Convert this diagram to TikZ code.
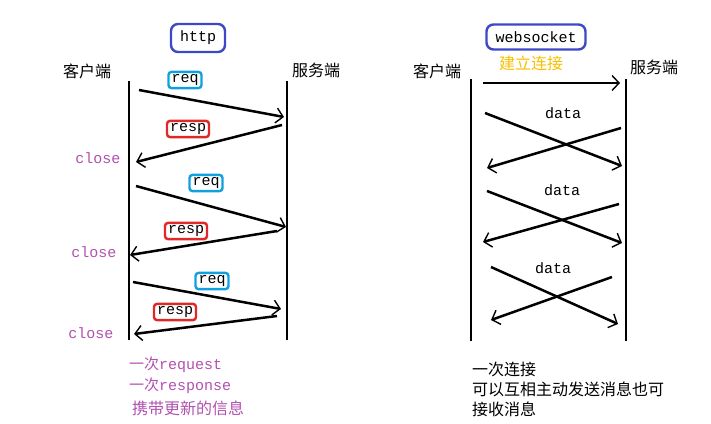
\documentclass[tikz,border=0pt]{standalone}
\usepackage{fontspec}
\usetikzlibrary{arrows.meta}
\newfontfamily\cjk{Noto Sans CJK SC}
\newfontfamily\mono{Liberation Mono}
\definecolor{hblue}{HTML}{3C48C8}
\definecolor{qcyan}{HTML}{10A0E0}
\definecolor{rred}{HTML}{E02828}
\definecolor{cpurple}{HTML}{B050B0}
\definecolor{jyellow}{HTML}{F8C000}

\begin{document}
\begin{tikzpicture}[
        x=1pt,y=-1pt,
        life/.style={line width=2.8pt},
        msg/.style={line width=2.5pt,-{Straight Barb[length=7pt,width=15pt,line width=1.4pt]}},
        titlebox/.style={draw=hblue,line width=2.4pt,rounded corners=7pt,inner xsep=9pt,inner ysep=7pt,font=\mono\fontsize{15}{16}\selectfont},
        reqbox/.style={draw=qcyan,line width=2.4pt,rounded corners=3pt,inner xsep=3pt,inner ysep=2.5pt,font=\mono\fontsize{15}{16}\selectfont},
        respbox/.style={reqbox,draw=rred},
        side/.style={font=\cjk\fontsize{16}{18}\selectfont},
        closelbl/.style={text=cpurple,font=\mono\fontsize{15}{16}\selectfont},
        datalbl/.style={font=\mono\fontsize{15}{16}\selectfont},
        note/.style={align=left,anchor=north west,inner sep=0pt},
      ]
      \useasboundingbox (0,0) rectangle (711,423);
      % http side
      \node[titlebox] (http) at (198,38) {http};
      \node[side] (hcli) at (87,71) {客户端};
      \node[side] (hsrv) at (316,70) {服务端};
      \coordinate (hclitop) at (129,81);
      \coordinate (hclibot) at (129,340);
      \coordinate (hsrvtop) at (287,81);
      \coordinate (hsrvbot) at (287,340);
      \draw[life] (hclitop) -- (hclibot);
      \draw[life] (hsrvtop) -- (hsrvbot);
      \node[reqbox] (req1) at (185,80) {req};
      \node[respbox] (resp1) at (188,129) {resp};
      \node[reqbox] (req2) at (206,183) {req};
      \node[respbox] (resp2) at (186,231) {resp};
      \node[reqbox] (req3) at (212,281) {req};
      \node[respbox] (resp3) at (175,312) {resp};
      \coordinate (q1a) at (139,90);  \coordinate (q1b) at (284,117);
      \coordinate (p1a) at (282,125); \coordinate (p1b) at (136,162);
      \coordinate (q2a) at (136,186); \coordinate (q2b) at (286,227);
      \coordinate (p2a) at (277,231); \coordinate (p2b) at (130,255);
      \coordinate (q3a) at (133,282); \coordinate (q3b) at (281,309);
      \coordinate (p3a) at (277,316); \coordinate (p3b) at (134,334);
      \foreach \a/\b in {q1a/q1b,p1a/p1b,q2a/q2b,p2a/p2b,q3a/q3b,p3a/p3b}
        \draw[msg] (\a) -- (\b);
      \node[closelbl] (close1) at (98,158) {close};
      \node[closelbl] (close2) at (94,252) {close};
      \node[closelbl] (close3) at (91,333) {close};
      \node[note,text=cpurple,font=\fontsize{15}{21}\selectfont] (hnote) at (129,357)
        {{\cjk 一次}{\mono request}\\{\cjk 一次}{\mono response}};
      \node[note,text=cpurple,font=\cjk\fontsize{16}{18}\selectfont] (hnote2) at (132,401) {携带更新的信息};
      % websocket side
      \node[titlebox] (ws) at (536,37) {websocket};
      \node[side,text=jyellow] (conn) at (531,63) {建立连接};
      \node[side] (wcli) at (437,71) {客户端};
      \node[side] (wsrv) at (654,67) {服务端};
      \coordinate (wclitop) at (471,79);
      \coordinate (wclibot) at (471,341);
      \coordinate (wsrvtop) at (626,79);
      \coordinate (wsrvbot) at (626,341);
      \draw[life] (wclitop) -- (wclibot);
      \draw[life] (wsrvtop) -- (wsrvbot);
      \coordinate (ca) at (483,83); \coordinate (cb) at (620,83);
      \draw[msg] (ca) -- (cb);
      \node[datalbl] (data1) at (563,113) {data};
      \node[datalbl] (data2) at (562,190) {data};
      \node[datalbl] (data3) at (553,268) {data};
      \coordinate (x1a) at (485,113); \coordinate (x1b) at (622,166);
      \coordinate (y1a) at (621,128); \coordinate (y1b) at (487,168);
      \coordinate (x2a) at (487,191); \coordinate (x2b) at (622,243);
      \coordinate (y2a) at (619,204); \coordinate (y2b) at (483,242);
      \coordinate (x3a) at (491,267); \coordinate (x3b) at (618,324);
      \coordinate (y3a) at (612,277); \coordinate (y3b) at (491,320);
      \foreach \a/\b in {x1a/x1b,y1a/y1b,x2a/x2b,y2a/y2b,x3a/x3b,y3a/y3b}
        \draw[msg] (\a) -- (\b);
      \node[note,font=\cjk\fontsize{16}{20}\selectfont] (wnote) at (472,362)
        {一次连接\\可以互相主动发送消息也可\\接收消息};
    \end{tikzpicture}
\end{document}
